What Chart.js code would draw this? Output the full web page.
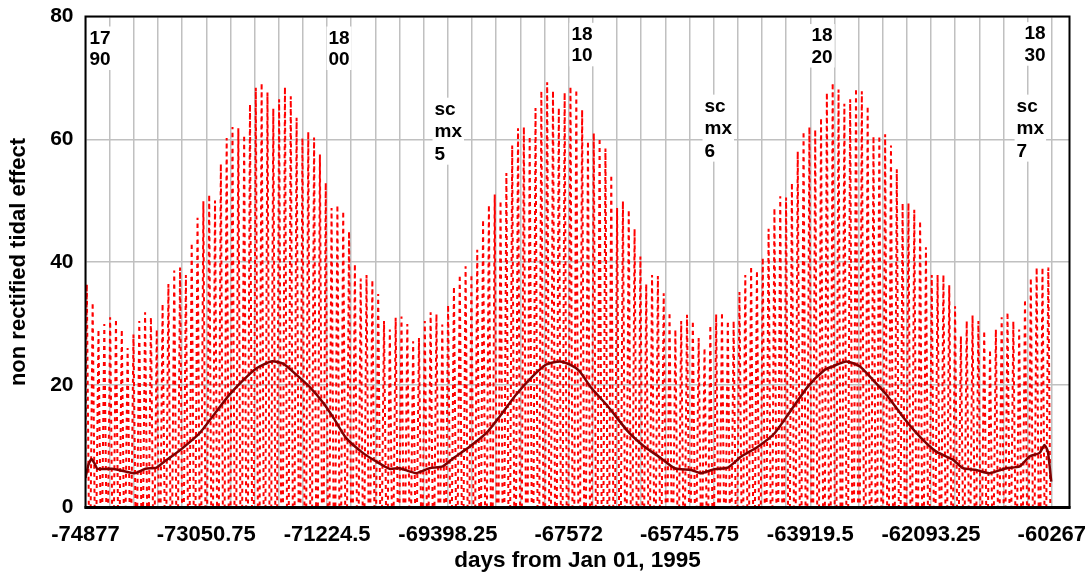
<!DOCTYPE html>
<html>
<head>
<meta charset="utf-8">
<title>Non rectified tidal effect 1790-1830</title>
<script src="https://cdn.jsdelivr.net/npm/chart.js@4.4.0/dist/chart.umd.min.js"></script>
<style>
  html, body { margin: 0; padding: 0; background: #fff; }
</style>
</head>
<body>
<canvas id="tideChart" width="1091" height="575"></canvas>
<script>
// x axis: days from Jan 01, 1995 -- labels every 5 years, grid every year
const xTickLabels = [-74877, -73050.75, -71224.5, -69398.25, -67572, -65745.75, -63919.5, -62093.25, -60267];
const yearDays = 365.25;
const xMin = -74877;
const xMax = -60000;
const yTicks = [0, 20, 40, 60, 80];

// tidal effect spikes, one per 88-day orbit, with their peak heights
const spikeFirstDay = -74857;
const spikeStepDays = 88.1;
const spikeHalfWidth = 30;
const spikePeaks = [
  36.4, 33.4, 29, 29.9, 31, 30.7, 29, 26, 28.2, 30.4, 31.8, 31, 29, 33.2, 36.4, 38.6, 39.1, 37.9, 43.1, 47.2,
  49.9, 51, 50, 56, 60.2, 62, 61.8, 60.7, 65.7, 68.4, 69.2, 67.6, 65, 66.5, 68.5, 67, 63.5, 60.2, 61.2, 60.3,
  57.5, 52.9, 48.8,
  49.3, 48.3, 45, 39.7, 37.3, 37.9, 37.1, 34.8, 30.4, 29, 30.9, 31.1, 29.9, 27.1, 27.6, 30.4, 31.8, 31.5, 29.8, 33,
  36, 37.9, 39.3, 38, 42, 46.9, 49.3, 51, 50, 54.5, 59, 61.8, 62, 60.5, 65.1, 67.9, 69.3, 67.9, 65.1, 67.6,
  68.6, 68.1,
  64.8, 59.7, 61, 60.2, 58.5, 54.2, 48.8, 49.9, 48.5, 45.4, 40.9, 36.4, 37.9, 37.7, 34.9, 31.8, 29, 30.4, 31.4, 30.4,
  27.6, 26, 29.7, 31.5, 31.8, 30.4, 30.4, 35.1, 37.9, 39.3, 38.6, 40.7, 45.4, 48.8, 50.7, 50.5, 52.9, 58, 61.3, 62,
  61.6, 63.5,
  67.6, 69.2, 68.1, 65.8, 66.5, 68.3, 67.8, 65.4, 60.5, 60.6, 60.8, 59, 55.1, 49.6, 49.6, 48.5, 46.7, 42.4, 37.9, 37.9,
  37.9, 36.2, 32.8, 27.9, 30.4, 31.3, 30.4, 28.8, 25.7, 29, 31, 31.8, 30.3, 29, 33.9, 37.4, 39.1, 39.1, 39.1
];

// running mean of the tidal effect
const meanDays = [
  -74877, -74832, -74786, -74741, -74696, -74514, -74408, -74212, -74121, -73970,
  -73803, -73683, -73577, -73395, -73153, -72896, -72700, -72488, -72291, -72065,
  -71883, -71687, -71475, -71278, -71127, -70935, -70684, -70482, -70280, -70129,
  -69877, -69676, -69475, -69323, -69071, -68819, -68617, -68365, -68114, -67911,
  -67710, -67559, -67408, -67231, -66980, -66677, -66425, -66172, -65971, -65719,
  -65568, -65366, -65165, -64963, -64712, -64459, -64207, -63956, -63704, -63578,
  -63375, -63174, -62973, -62770, -62520, -62267, -62014, -61763, -61612, -61410,
  -61208, -60956, -60755, -60604, -60453, -60377, -60327, -60276
];
const meanValues = [
  4.8, 7.0, 7.9, 7.2, 6.3, 6.3, 6.2, 5.7, 5.6, 6.3,
  6.5, 7.5, 8.3, 9.8, 12.1, 15.7, 18.4, 20.8, 22.7, 23.8,
  23.4, 21.6, 19.5, 17.0, 14.6, 11.3, 8.9, 7.5, 6.3, 6.4,
  5.6, 6.4, 6.7, 8.0, 9.9, 12.1, 14.8, 18.4, 21.4, 23.3,
  23.8, 23.3, 22.2, 19.5, 16.5, 12.4, 9.9, 8.0, 6.4, 6.1,
  5.6, 6.25, 6.5, 8.3, 9.9, 12.1, 15.9, 19.7, 22.4, 23.0,
  23.8, 23.0, 20.8, 18.4, 14.8, 11.6, 9.1, 7.8, 6.4, 6.1,
  5.6, 6.4, 6.7, 8.3, 8.9, 10.2, 9.1, 4.2
];

// decade markers and solar cycle maxima, anchored in data units (left edge, first baseline)
const yearNotes = [
  { lines: ['17', '90'], day: -74816, value: 75.6 },
  { lines: ['18', '00'], day: -71203, value: 75.6 },
  { lines: ['18', '10'], day: -67529, value: 76.2 },
  { lines: ['18', '20'], day: -63900, value: 76.0 },
  { lines: ['18', '30'], day: -60680, value: 76.3 }
];
const cycleNotes = [
  { lines: ['sc', 'mx', '5'], day: -69600, value: 64.0 },
  { lines: ['sc', 'mx', '6'], day: -65518, value: 64.5 },
  { lines: ['sc', 'mx', '7'], day: -60800, value: 64.5 }
];

const FONT = '"Liberation Sans", Arial, Helvetica, sans-serif';
Chart.defaults.font.family = FONT;
Chart.defaults.color = '#000';

// yearly grid positions from the first label to the last
const xGridDays = [];
for (let k = 0; xMin + k * yearDays <= xTickLabels[xTickLabels.length - 1]; k++) {
  xGridDays.push(xMin + k * yearDays);
}

// each spike rises from zero to its peak and falls back
const spikeData = [];
spikePeaks.forEach((peak, i) => {
  const day = spikeFirstDay + i * spikeStepDays;
  spikeData.push({ x: day - spikeHalfWidth, y: 0 });
  spikeData.push({ x: day, y: peak });
  spikeData.push({ x: day + spikeHalfWidth, y: 0 });
});
const meanData = meanDays.map((d, i) => ({ x: d, y: meanValues[i] }));

function drawNotes(ctx, xs, ys, notes, lineGap) {
  notes.forEach(n => {
    const left = xs.getPixelForValue(n.day);
    const base = ys.getPixelForValue(n.value);
    const w = Math.max(...n.lines.map(t => ctx.measureText(t).width));
    ctx.fillStyle = '#fff';
    ctx.fillRect(left - 2, base - 17, w + 4, (n.lines.length - 1) * lineGap + 22);
    ctx.fillStyle = '#000';
    n.lines.forEach((t, i) => ctx.fillText(t, left, base + i * lineGap));
  });
}

const framePlugin = {
  id: 'framePlugin',
  beforeDatasetsDraw(chart) {
    const { ctx, scales } = chart;
    ctx.save();
    ctx.font = 'bold 19px ' + FONT;
    ctx.textBaseline = 'alphabetic';
    ctx.textAlign = 'left';
    drawNotes(ctx, scales.x, scales.y, yearNotes, 21.5);
    drawNotes(ctx, scales.x, scales.y, cycleNotes, 22.5);
    ctx.restore();
  },
  afterDatasetsDraw(chart) {
    const { ctx, chartArea: a } = chart;
    ctx.save();
    ctx.strokeStyle = '#000';
    ctx.lineWidth = 2;
    ctx.strokeRect(a.left, a.top, a.right - a.left, a.bottom - a.top);
    ctx.lineWidth = 3;
    ctx.beginPath();
    ctx.moveTo(a.left - 1, a.bottom);
    ctx.lineTo(a.right + 1, a.bottom);
    ctx.stroke();
    ctx.restore();
  }
};

const ctx = document.getElementById('tideChart').getContext('2d');
new Chart(ctx, {
  type: 'line',
  data: {
    datasets: [
      {
        label: 'running mean',
        data: meanData,
        borderColor: '#800000',
        borderWidth: 2.5,
        pointRadius: 0,
        tension: 0.2,
        fill: false
      },
      {
        label: 'non rectified tidal effect',
        data: spikeData,
        borderColor: '#ff0000',
        borderWidth: 2,
        borderDash: [4, 4],
        pointRadius: 0,
        tension: 0,
        fill: false
      }
    ]
  },
  options: {
    responsive: false,
    animation: false,
    devicePixelRatio: 1,
    layout: { padding: { top: 16.5, right: 21.5, bottom: 0, left: 0 } },
    plugins: {
      legend: { display: false },
      tooltip: { enabled: false }
    },
    scales: {
      x: {
        type: 'linear',
        min: xMin,
        max: xMax,
        afterBuildTicks: axis => { axis.ticks = xGridDays.map(v => ({ value: v })); },
        afterFit: axis => {
          axis.height = 67.5;
          axis.paddingLeft = 0;
          axis.paddingRight = 0;
        },
        ticks: {
          autoSkip: false,
          maxRotation: 0,
          minRotation: 0,
          padding: 14,
          color: '#000',
          font: { size: 22, weight: 'bold' },
          callback: v => (xTickLabels.includes(v) ? String(v) : '')
        },
        grid: { color: '#c0c0c0', lineWidth: 1.5, drawTicks: false },
        border: { display: false },
        title: {
          display: true,
          text: 'days from Jan 01, 1995',
          color: '#000',
          font: { size: 22.5, weight: 'bold' },
          padding: { top: 0, bottom: 1 }
        }
      },
      y: {
        min: 0,
        max: 80,
        afterBuildTicks: axis => { axis.ticks = yTicks.map(v => ({ value: v })); },
        afterFit: axis => {
          axis.width = 85.5;
          axis.paddingTop = 0;
          axis.paddingBottom = 0;
        },
        ticks: {
          padding: 12,
          color: '#000',
          font: { size: 21, weight: 'bold' }
        },
        grid: { color: '#c0c0c0', lineWidth: 1.5, drawTicks: false },
        border: { display: false },
        title: {
          display: true,
          text: 'non rectified tidal effect',
          color: '#000',
          font: { size: 22, weight: 'bold' },
          padding: { top: 6, bottom: 0 }
        }
      }
    }
  },
  plugins: [framePlugin]
});
</script>
</body>
</html>
